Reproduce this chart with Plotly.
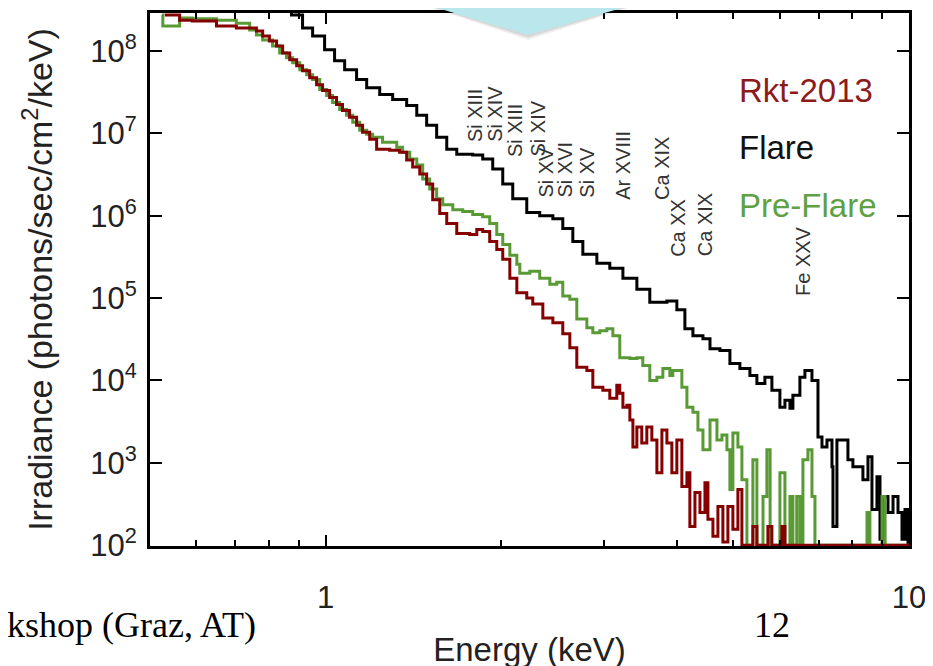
import math
import plotly.graph_objects as go

# ---------------- data ----------------
flare_e = [0.844, 0.874, 0.913, 0.950, 0.996, 1.036, 1.078, 1.130, 1.176, 1.238, 1.303, 1.377,
           1.433, 1.490, 1.550, 1.613, 1.678, 1.787, 1.859, 1.934, 2.012, 2.093, 2.212, 2.328,
           2.452, 2.550, 2.653, 2.760, 2.917, 3.070, 3.233, 3.416, 3.595, 3.846, 4.000, 4.129,
           4.262, 4.434, 4.559, 4.742, 4.932, 5.130, 5.337, 5.486, 5.662, 5.821, 6.008, 6.128,
           6.250, 6.324, 6.501, 6.631, 6.818, 6.982, 7.093, 7.234, 7.378, 7.407, 7.524, 7.858,
           8.014, 8.337, 8.505, 8.640, 8.812, 8.918, 9.024, 9.204, 9.389, 9.575, 9.727, 9.843,
           9.961]
flare_i = [4.0e8, 2.72e8, 1.89e8, 1.52e8, 1.03e8, 7.59e7, 5.90e7, 4.48e7, 3.58e7, 2.95e7, 2.57e7, 2.17e7,
           1.65e7, 1.25e7, 8.95e6, 6.41e6, 5.58e6, 5.43e6, 4.86e6, 3.68e6, 2.43e6, 1.60e6, 1.09e6, 1.00e6,
           9.20e5, 6.97e5, 4.86e5, 3.39e5, 2.64e5, 2.30e5, 1.74e5, 1.28e5, 8.90e4, 9.20e4, 7.20e4, 4.24e4,
           3.48e4, 3.21e4, 2.43e4, 2.30e4, 1.60e4, 1.40e4, 1.15e4, 9.20e3, 1.09e4, 7.59e3, 4.73e3, 5.74e3,
           4.60e3, 6.59e3, 1.09e4, 1.32e4, 1.00e4, 2.06e3, 1.56e3, 1.89e3, 8.95e2, 1.69e2, 1.89e3, 1.09e3,
           8.95e2, 6.24e2, 1.18e3, 2.72e2, 6.78e2, 1.18e2, 3.89e2, 2.50e2, 3.89e2, 2.50e2, 1.18e2, 2.72e2,
           1.00e2]

preflare_e = [0.524, 0.526, 0.562, 0.591, 0.650, 0.703, 0.741, 0.761, 0.780, 0.811, 0.834, 0.857,
              0.878, 0.903, 0.928, 0.950, 0.977, 1.004, 1.028, 1.057, 1.086, 1.113, 1.144, 1.176,
              1.204, 1.252, 1.324, 1.355, 1.394, 1.433, 1.467, 1.508, 1.550, 1.588, 1.652, 1.718,
              1.787, 1.859, 1.911, 1.965, 2.012, 2.069, 2.127, 2.152, 2.239, 2.328, 2.423, 2.490,
              2.550, 2.622, 2.695, 2.804, 2.871, 2.951, 3.034, 3.107, 3.193, 3.323, 3.416, 3.497,
              3.595, 3.697, 3.785, 3.891, 3.937, 4.080, 4.162, 4.262, 4.347, 4.434, 4.559, 4.686,
              4.779, 4.874, 4.932, 4.990, 5.090, 5.171, 5.274, 5.400, 5.486, 5.620, 5.707, 5.780,
              6.008, 6.128, 6.250, 6.324, 6.420, 6.501, 6.579, 6.710, 6.818, 6.899, 8.472, 8.570,
              8.989, 9.100, 10.0]
preflare_i = [2.72e8, 2.00e8, 2.50e8, 2.45e8, 2.36e8, 2.17e8, 1.79e8, 1.56e8, 1.36e8, 1.15e8, 9.46e7, 8.24e7,
              7.16e7, 5.90e7, 5.14e7, 4.48e7, 3.39e7, 2.87e7, 2.36e7, 1.95e7, 1.65e7, 1.36e7, 1.09e7, 9.73e6,
              8.95e6, 7.80e6, 6.78e6, 5.90e6, 4.86e6, 4.11e6, 2.79e6, 2.11e6, 1.60e6, 1.36e6, 1.18e6, 1.12e6,
              1.03e6, 9.73e5, 8.02e5, 5.90e5, 4.48e5, 3.30e5, 2.57e5, 2.00e5, 2.11e5, 1.74e5, 1.47e5, 1.55e5,
              1.06e5, 9.70e4, 5.58e4, 4.35e4, 3.79e4, 4.00e4, 4.24e4, 3.48e4, 1.89e4, 1.84e4, 1.89e4, 1.52e4,
              1.00e4, 1.09e4, 1.40e4, 1.15e4, 1.32e4, 8.24e3, 4.73e3, 4.11e3, 2.50e3, 1.44e3, 3.30e3, 1.89e3,
              2.17e3, 1.44e3, 4.73e2, 2.30e3, 1.56e3, 6.24e2, 1.00e2, 1.09e3, 1.00e2, 3.89e2, 1.44e3, 1.00e2,
              7.59e2, 1.00e2, 3.89e2, 1.00e2, 3.89e2, 1.00e2, 1.09e3, 1.44e3, 3.89e2, 1.00e2, 2.50e2, 1.00e2,
              3.89e2, 1.00e2, 1.00e2]

rkt_e = [0.530, 0.562, 0.591, 0.650, 0.703, 0.761, 0.780, 0.801, 0.824, 0.844, 0.868, 0.892,
         0.913, 0.939, 0.965, 0.988, 1.016, 1.044, 1.069, 1.099, 1.130, 1.157, 1.190, 1.223,
         1.288, 1.339, 1.377, 1.410, 1.450, 1.490, 1.526, 1.569, 1.613, 1.678, 1.766, 1.816,
         1.859, 1.911, 1.965, 2.012, 2.069, 2.127, 2.212, 2.265, 2.357, 2.452, 2.550, 2.622,
         2.695, 2.804, 2.871, 2.987, 3.070, 3.156, 3.193, 3.233, 3.284, 3.323, 3.363, 3.416,
         3.483, 3.553, 3.624, 3.697, 3.771, 3.846, 3.922, 4.000, 4.080, 4.162, 4.211, 4.296,
         4.382, 4.469, 4.522, 4.612, 4.704, 4.797, 4.893, 4.990, 5.090, 5.171, 5.400, 5.486,
         5.730, 5.821, 6.056, 6.128, 10.0]
rkt_i = [2.72e8, 2.36e8, 2.30e8, 2.00e8, 1.89e8, 1.74e8, 1.52e8, 1.32e8, 1.15e8, 9.46e7, 7.80e7, 6.59e7,
         5.74e7, 4.73e7, 3.89e7, 3.30e7, 2.72e7, 2.23e7, 1.89e7, 1.56e7, 1.25e7, 1.03e7, 8.47e6, 6.41e6,
         6.24e6, 5.90e6, 4.73e6, 3.89e6, 3.21e6, 2.43e6, 1.56e6, 1.06e6, 8.02e5, 6.07e5, 5.90e5, 6.78e5,
         6.41e5, 4.86e5, 3.89e5, 2.95e5, 1.74e5, 1.16e5, 1.00e5, 8.47e4, 5.74e4, 5.00e4, 3.68e4, 2.50e4,
         1.44e4, 1.32e4, 8.24e3, 7.59e3, 6.07e3, 8.71e3, 6.97e3, 4.73e3, 5.00e3, 3.30e3, 1.56e3, 2.72e3,
         1.74e3, 2.72e3, 1.89e3, 7.59e2, 2.50e3, 1.74e3, 7.59e2, 1.89e3, 5.14e2, 7.59e2, 1.69e2, 4.35e2,
         2.50e2, 5.74e2, 2.06e2, 1.28e2, 2.95e2, 1.09e2, 2.95e2, 1.56e2, 4.73e2, 1.00e2, 1.69e2, 1.00e2,
         1.69e2, 1.00e2, 1.69e2, 1.00e2, 1.00e2]

# spectral line labels: text, energy (keV) of label centre, irradiance at label bottom
line_labels = ["Si XIII", "Si XIV", "Si XIII", "Si XIV", "Si XV", "Si XVI", "Si XV",
               "Ar XVIII", "Ca XIX", "Ca XX", "Ca XIX", "Fe XXV"]
line_label_e = [1.80, 1.95, 2.11, 2.31, 2.39, 2.57, 2.81, 3.23, 3.77, 4.02, 4.47, 6.58]
line_label_i = [7.4e6, 7.4e6, 4.9e6, 4.9e6, 1.56e6, 1.56e6, 1.56e6, 1.48e6, 1.48e6, 3.0e5, 3.0e5, 1.0e5]

series_names = ["Rkt-2013", "Flare", "Pre-Flare"]
x_tick_vals = [1, 10]
x_tick_text = ["1", "10"]
x_minor_vals = [0.6, 0.7, 0.8, 0.9, 2, 3, 4, 5, 6, 7, 8, 9]
y_tick_vals = [1e2, 1e3, 1e4, 1e5, 1e6, 1e7, 1e8]
y_tick_text = ["10<sup>%d</sup>" % p for p in range(2, 9)]

# ---------------- figure ----------------
RED = "#850000"
GREEN = "#5a9a36"
BLACK = "#000000"
FONT = "Liberation Sans, Arial, Helvetica, sans-serif"
SERIF = "Liberation Serif, Times New Roman, serif"

fig = go.Figure()
fig.add_trace(go.Scatter(x=flare_e, y=flare_i, mode="lines", line_shape="hv",
                         line=dict(color=BLACK, width=3), name=series_names[1]))
fig.add_trace(go.Scatter(x=preflare_e, y=preflare_i, mode="lines", line_shape="hv",
                         line=dict(color=GREEN, width=3), name=series_names[2]))
fig.add_trace(go.Scatter(x=rkt_e, y=rkt_i, mode="lines", line_shape="hv",
                         line=dict(color=RED, width=3), name=series_names[0]))

annotations = []
for t, e, v in zip(line_labels, line_label_e, line_label_i):
    annotations.append(dict(x=math.log10(e), y=math.log10(v), xref="x", yref="y",
                            text=t, textangle=-90, showarrow=False,
                            xanchor="center", yanchor="bottom",
                            font=dict(family=FONT, size=20, color="#333333")))

# legend as coloured text
leg_colors = ["#8e1b1b", "#111111", "#5fa043"]
leg_y = [0.8545, 0.7481, 0.6381]
for name, c, yy in zip(series_names, leg_colors, leg_y):
    annotations.append(dict(x=0.7734, y=yy, xref="paper", yref="paper", text=name,
                            showarrow=False, xanchor="left", yanchor="middle",
                            font=dict(family=FONT, size=33, color=c)))

# slide furniture around the chart
annotations.append(dict(x=-0.1915, y=-0.1474, xref="paper", yref="paper",
                        text="kshop (Graz, AT)", showarrow=False, xanchor="left",
                        yanchor="middle", font=dict(family=SERIF, size=36, color="black")))
annotations.append(dict(x=0.8195, y=-0.1474, xref="paper", yref="paper",
                        text="12", showarrow=False, xanchor="center",
                        yanchor="middle", font=dict(family=SERIF, size=36, color="black")))

shapes = [
    dict(type="path", xref="paper", yref="paper", layer="above",
         path="M 0.3280 1.030 L 0.6760 1.030 L 0.4980 0.9500 Z",
         fillcolor="rgba(0,0,0,0.07)", line=dict(width=0)),
    dict(type="path", xref="paper", yref="paper", layer="above",
         path="M 0.3294 1.030 L 0.6733 1.030 L 0.4980 0.9540 Z",
         fillcolor="rgba(0,0,0,0.09)", line=dict(width=0)),
    dict(type="path", xref="paper", yref="paper", layer="above",
         path="M 0.3307 1.030 L 0.6719 1.030 L 0.4980 0.9585 Z",
         fillcolor="#b9e7eb", line=dict(width=0)),
]

axis_common = dict(showline=True, linewidth=3, linecolor="black", mirror="allticks",
                   ticks="inside", tickwidth=2, tickcolor="black", showgrid=False,
                   zeroline=False, tickfont=dict(family=FONT, size=31, color="#222222"))

# the page body adds an 8px offset, so the margins compensate for it
fig.update_layout(
    width=933, height=666, autosize=False,
    margin=dict(l=142, r=32, t=2, b=128),
    paper_bgcolor="white", plot_bgcolor="white",
    showlegend=False,
    font=dict(family=FONT, color="#222222"),
    xaxis=dict(type="log", range=[math.log10(0.5), 1.0], tickmode="array",
               tickvals=x_tick_vals, ticktext=x_tick_text, ticklen=11,
               ticklabelstandoff=22,
               minor=dict(tickmode="array", tickvals=x_minor_vals, ticks="inside",
                          ticklen=6, tickwidth=2, tickcolor="black", showgrid=False),
               title=dict(text="Energy (keV)", font=dict(family=FONT, size=33, color="#222222"),
                          standoff=24),
               **axis_common),
    yaxis=dict(type="log", range=[1.99, 8.46], tickmode="array",
               tickvals=y_tick_vals, ticktext=y_tick_text, ticklen=12,
               ticklabelstandoff=4,
               title=dict(text="Irradiance (photons/sec/cm<sup>2</sup>/keV)",
                          font=dict(family=FONT, size=34, color="#222222"), standoff=28),
               **axis_common),
    annotations=annotations,
    shapes=shapes,
)

fig.write_html("out.html")
